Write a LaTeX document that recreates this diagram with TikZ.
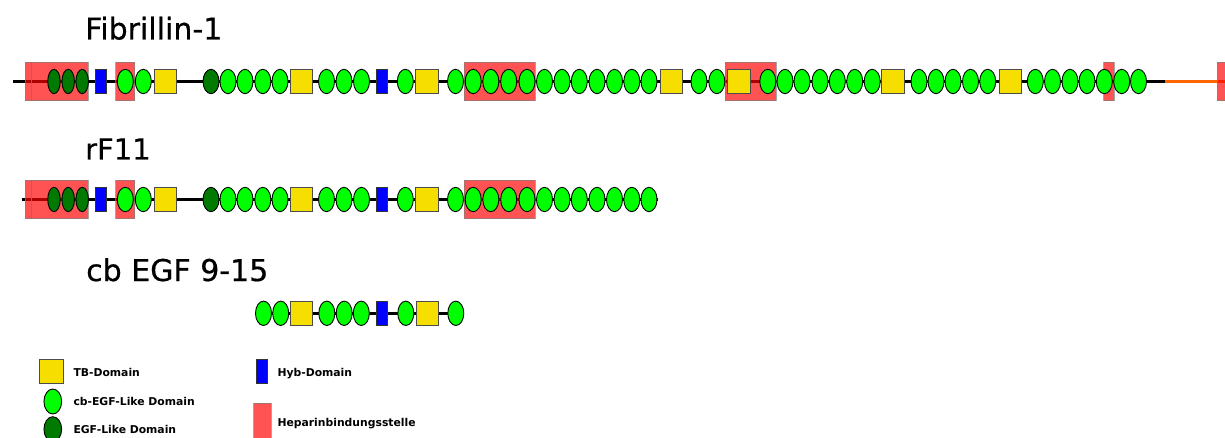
\documentclass[tikz,border=0pt]{standalone}
\usepackage{fontspec}
\setmainfont{DejaVu Sans}
\newfontfamily\titlefam[FakeBold=0.6]{DejaVu Sans}
\usetikzlibrary{shapes.geometric}
\definecolor{cbgreen}{RGB}{0,255,0}
\definecolor{egfgreen}{RGB}{0,122,0}
\definecolor{tbyellow}{RGB}{245,222,0}
\definecolor{hybblue}{RGB}{0,0,255}
\definecolor{hepred}{RGB}{255,0,0}
\definecolor{linkorange}{RGB}{255,102,0}
\begin{document}
\begin{tikzpicture}[x=1pt,y=-1pt,
 cbegf/.style={ellipse, draw=black, line width=0.9pt, fill=cbgreen, minimum width=16pt, minimum height=24.4pt, inner sep=0pt},
 egf/.style={cbegf, fill=egfgreen},
 egfnarrow/.style={egf, minimum width=12.5pt},
 tb/.style={rectangle, draw=black!70, line width=0.9pt, fill=tbyellow, minimum width=22.5pt, minimum height=24.4pt, inner sep=0pt},
 hyb/.style={rectangle, draw=black!80, line width=0.9pt, fill=hybblue, minimum width=10.5pt, minimum height=24.4pt, inner sep=0pt},
 hep/.style={rectangle, draw=gray, draw opacity=0.7, line width=0.6pt, fill=hepred, fill opacity=0.68, inner sep=0pt, minimum height=38.3pt},
 backbone/.style={line width=3.6pt, draw=black},
 title/.style={anchor=base west, inner sep=0pt, font=\titlefam\fontsize{30}{32}\selectfont},
 legtext/.style={anchor=base west, inner sep=0pt, font=\fontsize{10.8}{12}\selectfont\bfseries},
]
\useasboundingbox (0,0) rectangle (1225,438);
\clip (0,0) rectangle (1225,438);

% ---------- titles ----------
\node[title] (t1) at (85,39.5) {Fibrillin-1};
\node[title, font=\titlefam\fontsize{29}{31}\selectfont] (t2) at (85,159.5) {rF11};
\node[title] (t3) at (86,281) {cb EGF 9-15};

% ---------- row 1: Fibrillin-1 ----------
\coordinate (r1start) at (13,81.5);
\coordinate (r1mid) at (1165,81.5);
\coordinate (r1end) at (1230,81.5);
\draw[backbone] (r1start) -- (r1mid);
\draw[backbone, draw=linkorange] (r1mid) -- (r1end);

\node[hep, minimum width=6.3pt]  (r1hA1) at (28.15,81.6) {};
\node[hep, minimum width=57pt]   (r1hA2) at (59.8,81.6) {};
\node[hep, minimum width=19pt]   (r1hB)  at (125.2,81.6) {};
\node[hep, minimum width=70.7pt] (r1hC)  at (499.65,81.6) {};
\node[hep, minimum width=50.7pt] (r1hD)  at (750.65,81.6) {};
\node[hep, minimum width=10.3pt] (r1hE)  at (1108.85,81.6) {};
\node[hep, minimum width=10.3pt] (r1hF)  at (1222.5,81.6) {};

\foreach \x [count=\i] in {54,68.2,82.2}
  \node[egfnarrow] (r1n\i) at (\x,81.5) {};
\node[egf] (r1e1) at (211,81.5) {};
\foreach \x [count=\i] in {100.7,381.8}
  \node[hyb] (r1h\i) at (\x,81.5) {};
\foreach \x [count=\i] in {165.2,301.2,427,671.3,739,892.8,1010.5}
  \node[tb] (r1t\i) at (\x,81.5) {};
\foreach \x [count=\i] in {125.3,143.3,228,245,262.8,280,326.5,344,361.5,405.3,455.5,473.2,490.8,508.7,527,544.5,562,579.3,597,614.5,631.8,649,699,716.8,767.8,785,802,820,837.3,854.7,872.2,919,936,953,970.5,987.7,1035.3,1052.5,1070,1087,1104.3,1121.7,1138.5}
  \node[cbegf] (r1g\i) at (\x,81.5) {};

% ---------- row 2: rF11 ----------
\coordinate (r2start) at (21.7,199.5);
\coordinate (r2end) at (657.7,199.5);
\draw[backbone] (r2start) -- (r2end);

\node[hep, minimum width=6.3pt]  (r2hA1) at (28.15,199.6) {};
\node[hep, minimum width=57pt]   (r2hA2) at (59.8,199.6) {};
\node[hep, minimum width=19pt]   (r2hB)  at (125.2,199.6) {};
\node[hep, minimum width=70.7pt] (r2hC)  at (499.65,199.6) {};

\foreach \x [count=\i] in {54,68.2,82.2}
  \node[egfnarrow] (r2n\i) at (\x,199.5) {};
\node[egf] (r2e1) at (211,199.5) {};
\foreach \x [count=\i] in {100.7,381.8}
  \node[hyb] (r2h\i) at (\x,199.5) {};
\foreach \x [count=\i] in {165.2,301.2,427}
  \node[tb] (r2t\i) at (\x,199.5) {};
\foreach \x [count=\i] in {125.3,143.3,228,245,262.8,280,326.5,344,361.5,405.3,455.5,473.2,490.8,508.7,527,544.5,562,579.3,597,614.5,631.8,649}
  \node[cbegf] (r2g\i) at (\x,199.5) {};

% ---------- row 3: cb EGF 9-15 ----------
\coordinate (r3start) at (263.5,313.3);
\coordinate (r3end) at (455.8,313.3);
\draw[backbone] (r3start) -- (r3end);
\node[hyb] (r3h1) at (381.8,313.3) {};
\foreach \x [count=\i] in {301.3,427.3}
  \node[tb] (r3t\i) at (\x,313.3) {};
\foreach \x [count=\i] in {263.5,280.7,326.8,344.2,361.3,405.8,455.8}
  \node[cbegf] (r3g\i) at (\x,313.3) {};

% ---------- legend ----------
\node[tb, minimum width=24pt] (lgtb) at (51.3,371.2) {};
\node[legtext] (lgtbt) at (73.3,376.2) {TB-Domain};
\node[cbegf, minimum width=17.7pt, minimum height=25pt] (lgcb) at (52.8,401.5) {};
\node[legtext] (lgcbt) at (73.3,405.6) {cb-EGF-Like Domain};
\node[egf, minimum width=17.7pt, minimum height=25pt] (lgegf) at (52.8,429.2) {};
\node[legtext] (lgegft) at (73.3,433.3) {EGF-Like Domain};
\node[hyb, minimum height=24.3pt] (lghyb) at (262,371.2) {};
\node[legtext] (lghybt) at (277.3,376) {Hyb-Domain};
\node[hep, minimum width=17.6pt, minimum height=39pt] (lghep) at (262.5,422.8) {};
\node[legtext] (lghept) at (277.3,426) {Heparinbindungsstelle};
\end{tikzpicture}
\end{document}
